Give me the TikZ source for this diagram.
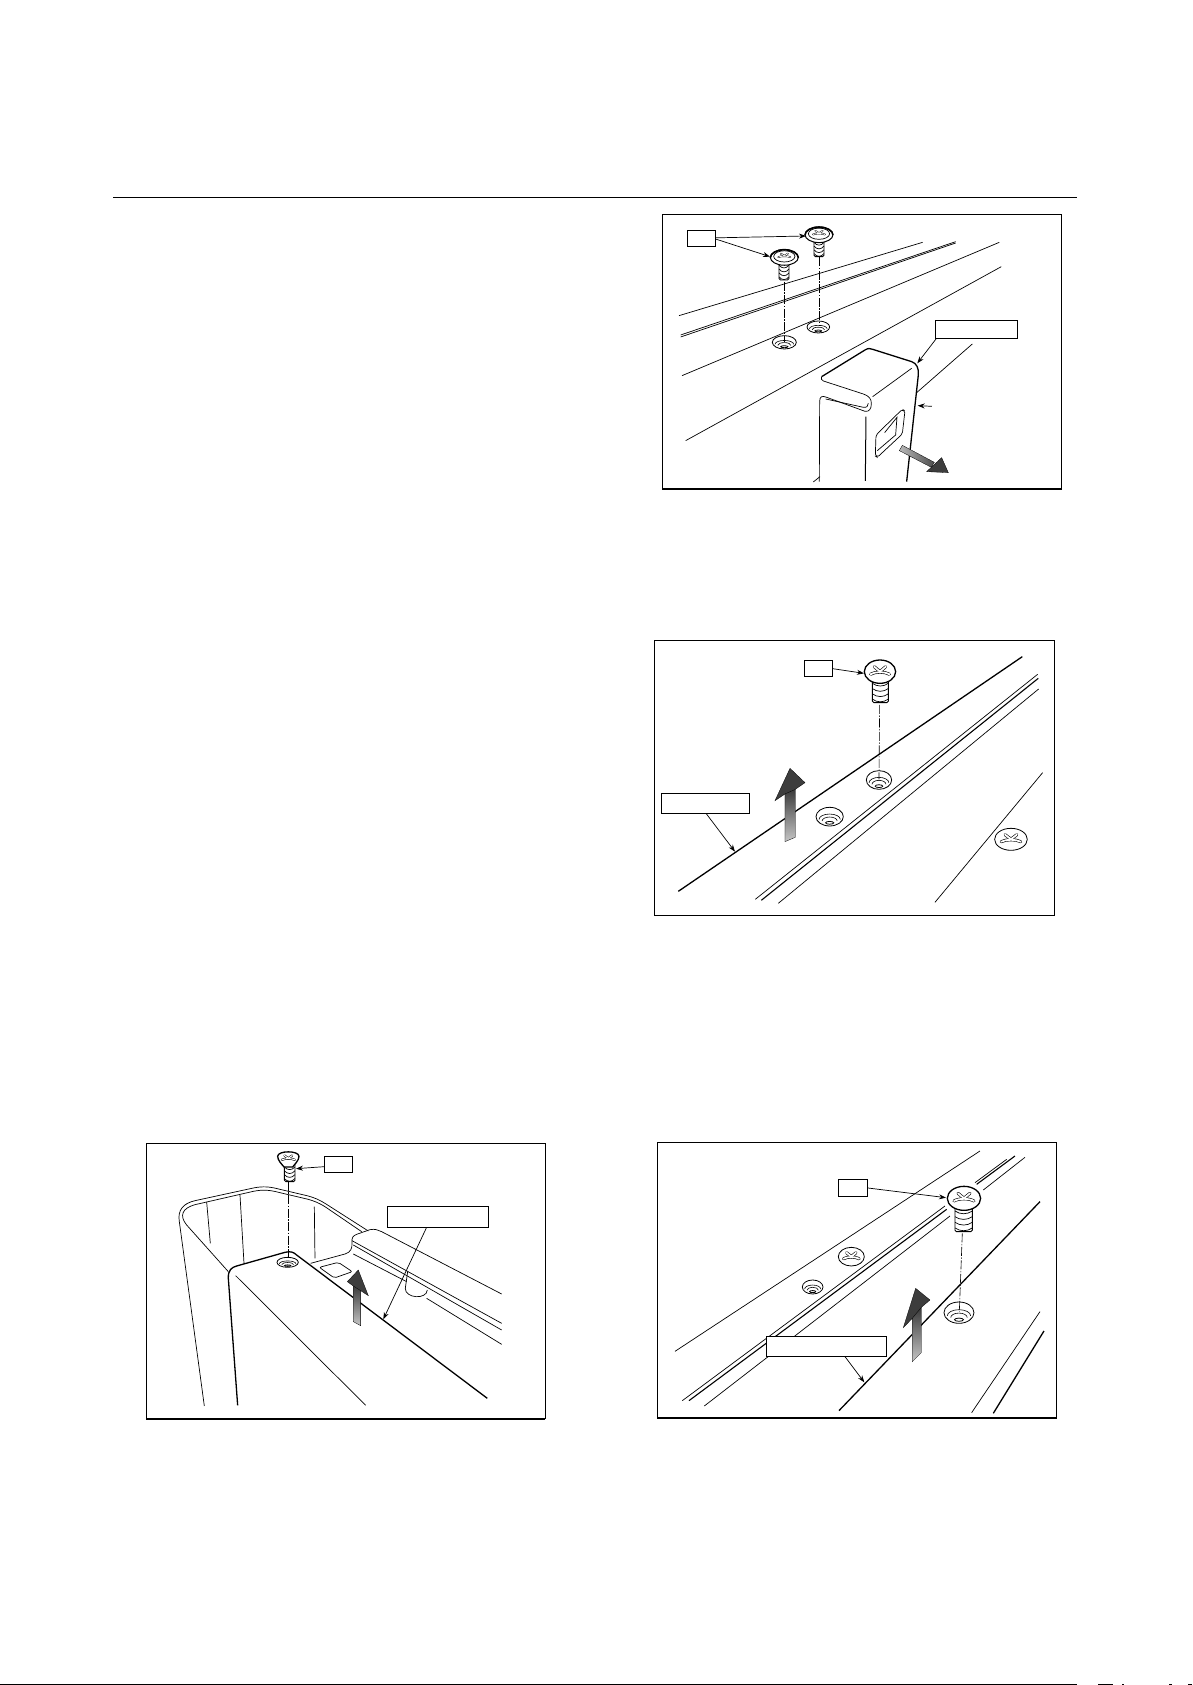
\documentclass[tikz,border=0pt]{standalone}
\usetikzlibrary{arrows.meta}
\definecolor{headdark}{gray}{0.24}
\tikzset{
  thin line/.style={line width=0.7pt,black},
  thick line/.style={line width=1.3pt,black},
  frameline/.style={line width=1.0pt,black},
  labelbox/.style={draw=black,line width=0.7pt,fill=white,inner sep=0pt},
  leader/.style={line width=0.7pt,black,-{Stealth[length=7pt,width=5pt]}},
  axisline/.style={line width=0.6pt,black,dash pattern=on 9pt off 1.5pt on 1.5pt off 1.5pt},
  blockhead/.style={draw=black,line width=0.3pt,fill=headdark},
  zoomA/.style={shift={(650pt,-200pt)},x=0.3333pt,y=-0.3333pt},
  zoomB/.style={shift={(640pt,-630pt)},x=0.3333pt,y=-0.3333pt},
  zoomC/.style={shift={(140pt,-1130pt)},x=0.3333pt,y=-0.3333pt},
  zoomD/.style={shift={(650pt,-1130pt)},x=0.3333pt,y=-0.3333pt},
}
% hole: x,y,rx,ry
\newcommand{\holeat}[4]{%
  \begin{scope}[shift={(#1,#2)},x=#3*0.3333pt,y=-#4*0.3333pt]
    \draw[line width=0.8pt,fill=white] (0,0) circle[x radius=1,y radius=1];
    \draw[line width=0.6pt] (-0.78,0.3) arc[start angle=180,end angle=360,x radius=0.78,y radius=0.58];
    \draw[line width=0.6pt] (-0.55,0.46) arc[start angle=180,end angle=360,x radius=0.55,y radius=0.42];
    \draw[line width=0.8pt] (0,0.66) circle[x radius=0.3,y radius=0.15];
  \end{scope}}
% cross recess: outer width, inner width
\newcommand{\crossrecess}[2]{%
    \draw[line width=#1,line cap=round] (-0.6,0.22) .. controls (-0.3,-0.02) and (0.3,-0.02) .. (0.6,0.22);
    \draw[line width=#1,line cap=round] (-0.36,-0.42) .. controls (-0.2,-0.25) and (-0.1,-0.1) .. (0,-0.02) .. controls (0.1,-0.1) and (0.2,-0.25) .. (0.36,-0.42);
    \draw[line width=#2,white,line cap=round] (-0.6,0.22) .. controls (-0.3,-0.02) and (0.3,-0.02) .. (0.6,0.22);
    \draw[line width=#2,white,line cap=round] (-0.36,-0.42) .. controls (-0.2,-0.25) and (-0.1,-0.1) .. (0,-0.02) .. controls (0.1,-0.1) and (0.2,-0.25) .. (0.36,-0.42);}
% plain head (installed or dome): x,y,rx,ry,lw
\newcommand{\domehead}[5]{%
  \begin{scope}[shift={(#1,#2)},x=#3*0.3333pt,y=-#4*0.3333pt]
    \draw[line width=#5,fill=white] (0,0) circle[x radius=1,y radius=1];
    \crossrecess{3pt}{1.8pt}
  \end{scope}}
% flanged head
\newcommand{\flangehead}[4]{%
  \begin{scope}[shift={(#1,#2)},x=#3*0.3333pt,y=-#4*0.3333pt]
    \draw[line width=1.0pt,fill=white] (0,0) circle[x radius=1,y radius=0.85];
    \draw[line width=1.5pt] (-1,0.05) arc[start angle=180,end angle=360,x radius=1,y radius=0.85];
    \draw[line width=0.7pt] (0,-0.1) circle[x radius=0.76,y radius=0.6];
    \begin{scope}[shift={(0,-0.15)},x=#3*0.24pt,y=-#4*0.2pt]\crossrecess{1.7pt}{0.8pt}\end{scope}
  \end{scope}}
% threaded shaft: cx, top, halfwidth, bottom, threads
\newcommand{\shaftat}[5]{%
  \draw[line width=0.9pt,fill=white,rounded corners=1.5pt] (#1-#3,#2) -- (#1-#3,#4) -- (#1+#3,#4) -- (#1+#3,#2);
  \foreach \i in {1,...,#5}{
    \pgfmathsetmacro{\ty}{#2+(#4-#2)*\i/(#5+0.3)}
    \draw[line width=0.7pt] (#1-#3,\ty-6) .. controls (#1-#3*0.4,\ty+5) and (#1+#3*0.4,\ty+5) .. (#1+#3,\ty-6);
  }}
\begin{document}
\begin{tikzpicture}[x=1pt,y=-1pt]
\useasboundingbox (0,0) rectangle (1192,1685);
% page rules
\coordinate (ruleL) at (113,197.5);
\coordinate (ruleR) at (1077,197.5);
\draw[line width=1.1pt] (ruleL) -- (ruleR);
\coordinate (footL) at (0,1684.3);
\coordinate (footR) at (1077,1684.3);
\draw[line width=1.3pt] (footL) -- (footR);
\draw[line width=1pt] (1098,1684.5) -- (1113,1684.5) (1122,1684.5) -- (1123.5,1684.5) (1169,1684.5) -- (1172,1684.5) (1188,1684.5) -- (1192,1684.5);

%------------- Panel 1
\begin{scope}[zoomA]
\draw[frameline] (37,868) -- (37,43) -- (1235,43) -- (1235,868);
\draw[line width=1.9pt] (37,868) -- (1235,868);
\draw[thin line] (87,347) -- (818,127);
\draw[thin line] (92,405) -- (917,125);
\draw[thin line] (92,411) -- (917,129);
\draw[thin line] (96,527) -- (1048,127);
\draw[thin line] (107,722) -- (1054,200);
\draw[thin line] (967,432) -- (800,578);
\holeat{403}{427}{36}{20}
\holeat{505}{381}{34}{18}
\draw[axisline] (403,245) -- (403,425);
\draw[axisline] (507,172) -- (507,378);
\shaftat{402}{190}{15}{240}{4}
\flangehead{403}{172}{42}{28}
\shaftat{507}{122}{15}{170}{4}
\flangehead{507}{104}{42}{28}
% bracket
\draw[line width=1.3pt,fill=white] (515,530) -- (645,450) .. controls (655,444) and (660,445) .. (668,448) -- (785,485) .. controls (800,490) and (807,505) .. (805,525) -- (770,845);
\draw[thin line] (515,530) .. controls (512,536) and (514,540) .. (520,543) -- (640,582) .. controls (658,588) and (665,598) .. (664,612) .. controls (664,626) and (658,636) .. (645,634) -- (530,592) .. controls (515,586) and (509,590) .. (509,605) -- (508,845);
\draw[thin line] (527,597) -- (640,622) .. controls (650,624) and (655,618) .. (655,610);
\draw[thin line] (668,590) -- (785,505);
\draw[line width=1pt] (648,650) -- (646,843);
\draw[thin line] (490,846) -- (510,830);
\draw[thin line,rounded corners=2pt] (678,705) -- (757,628) -- (765,632) -- (757,702) -- (682,772) -- (676,768) -- cycle;
\draw[thin line] (704,698) -- (741,652) -- (737,705) -- (682,752);
\shade[draw=black,line width=0.3pt,left color=gray!55,right color=black!70] (757,736) -- (853,787) -- (844,802) -- (748,752) -- cycle;
\draw[blockhead] (875,773) -- (895,818) -- (830,815) -- cycle;
\node[labelbox,minimum width=28pt,minimum height=15.7pt] (boxA1) at (155,115.5) {};
\node[labelbox,minimum width=81.7pt,minimum height=17.7pt] (boxA2) at (979.5,387.5) {};
\coordinate (headA2) at (468,108);
\coordinate (headA1) at (360,170);
\coordinate (cornerA) at (802,490);
\coordinate (edgeA) at (803,617);
\coordinate (tailA) at (846,619);
\draw[leader] (boxA1.east) ++(0,-2) -- (headA2);
\draw[leader] (boxA1.east) ++(0,2) -- (headA1);
\draw[leader] (860,414.5) -- (cornerA);
\draw[leader] (tailA) -- (edgeA);
\end{scope}

%------------- Panel 2
\begin{scope}[zoomB]
\draw[frameline] (43,30) rectangle (1244,858);
\draw[thick line] (115,784) -- (1147,80);
\draw[thin line] (346,808) -- (1193,133);
\draw[line width=1.1pt] (364,811) -- (1195,145);
\draw[thin line] (415,820) -- (1196,177);
\draw[thin line] (885,817) -- (1208,428);
\holeat{717}{450}{38}{28}
\holeat{569}{560}{41}{28}
\draw[axisline] (719,225) -- (717,448);
\shaftat{721}{150}{24}{218}{4}
\domehead{720}{125}{47}{35}{1.3pt}
\domehead{1113}{628}{49}{33}{0.8pt}
\shade[draw=black,line width=0.3pt,bottom color=gray!45,top color=black!80] (435,635) -- (466,622) -- (466,470) -- (435,490) -- cycle;
\draw[blockhead] (466,478) -- (495,458) -- (450,415) -- (405,512) -- (435,492) -- cycle;
\node[labelbox,minimum width=28pt,minimum height=16pt] (boxB1) at (535,116) {};
\node[labelbox,minimum width=88pt,minimum height=19.7pt] (boxB2) at (195,520.5) {};
\coordinate (headB) at (672,130);
\coordinate (edgeB) at (285,665);
\draw[leader] (boxB1.east) -- (headB);
\draw[leader] (198,550) -- (edgeB);
\end{scope}

%------------- Panel 3
\begin{scope}[zoomC]
\draw[frameline] (19,866) -- (19,41) -- (1216,41) -- (1216,866);
\draw[line width=1.9pt] (19,866) -- (1216,866);
% tub rim
\draw[thin line] (193,828) -- (118,275) .. controls (112,240) and (130,220) .. (165,212) -- (340,174) .. controls (370,168) and (390,170) .. (420,178) -- (505,198) .. controls (525,204) and (535,208) .. (555,220) -- (685,303);
\draw[thin line] (265,425) -- (140,285) .. controls (118,258) and (125,235) .. (165,224) -- (340,184) .. controls (370,178) and (390,180) .. (420,188) -- (505,208) .. controls (525,214) and (535,218) .. (555,230) -- (665,305);
\draw[thin line] (200,216) -- (211,340);
\draw[thin line] (300,195) -- (312,400);
\draw[thin line] (523,230) -- (525,385);
\draw[thick line] (293,826) -- (265,445) .. controls (264,420) and (275,412) .. (290,408) -- (435,367) .. controls (452,363) and (460,366) .. (470,375) -- (1042,805);
\draw[thin line] (287,437) -- (677,826);
% far rail
\draw[thin line] (512,400) -- (615,372) .. controls (632,367) and (637,355) .. (636,340) .. controls (634,322) and (640,317) .. (650,313) -- (690,299) .. controls (705,296) and (715,300) .. (725,305) -- (1085,492);
\draw[thin line] (636,332) -- (1085,580);
\draw[thin line] (640,345) -- (1085,600);
\draw[thin line] (640,372) -- (800,455);
\draw[thin line] (860,505) -- (1085,643);
\draw[thin line] (803,425) -- (796,475) .. controls (795,505) and (860,510) .. (862,480);
\draw[thin line,rounded corners=2pt] (538,412) -- (595,397) -- (637,425) -- (583,444) -- cycle;
\holeat{443}{397}{32}{15}
\draw[axisline] (445,155) -- (445,385);
\shaftat{449}{105}{16}{155}{4}
\begin{scope}[shift={(445,85)},x=32*0.3333pt,y=-20*0.3333pt]
  \draw[line width=1.3pt,fill=white] (-1,-0.3) .. controls (-1,-1.2) and (1,-1.2) .. (1,-0.3) .. controls (1,0.3) and (0.6,0.9) .. (0.4,1.3) -- (-0.4,1.3) .. controls (-0.6,0.9) and (-1,0.3) .. (-1,-0.3) -- cycle;
  \crossrecess{2.2pt}{1.1pt}
\end{scope}
\shade[draw=black,line width=0.3pt,bottom color=gray!45,top color=black!80] (640,575) -- (662,587) -- (662,470) -- (640,460) -- cycle;
\draw[blockhead] (640,468) -- (622,455) -- (655,420) -- (685,497) -- (662,482) -- cycle;
\node[labelbox,minimum width=28pt,minimum height=16.7pt] (boxC1) at (596,103) {};
\node[labelbox,minimum width=101pt,minimum height=21.3pt] (boxC2) at (894,260) {};
\coordinate (headC) at (468,116);
\coordinate (edgeC) at (730,568);
\draw[leader] (boxC1.west) ++(0,7) -- (headC);
\draw[leader] (860,292) -- (edgeC);
\end{scope}

%------------- Panel 4
\begin{scope}[zoomD]
\draw[frameline] (22,865) -- (22,37) -- (1220,37) -- (1220,865);
\draw[line width=1.9pt] (22,865) -- (1220,865);
\draw[thin line] (75,664) -- (990,63);
\draw[thin line] (97,812) -- (885,228);
\draw[line width=1.1pt] (117,812) -- (890,238);
\draw[thin line] (163,828) -- (900,258);
\draw[thin line] (975,158) -- (1070,88);
\draw[line width=1.1pt] (980,163) -- (1095,78);
\draw[thin line] (1000,180) -- (1125,82);
\draw[thick line] (567,842) -- (1170,215);
\draw[thin line] (965,848) -- (1170,545);
\draw[thick line] (1030,850) -- (1182,603);
\holeat{927}{548}{45}{32}
\holeat{488}{471}{31}{21}
\draw[axisline] (937,310) -- (928,546);
\domehead{604}{380}{39}{28}{0.8pt}
\shaftat{941}{232}{26}{305}{4}
\domehead{942}{205}{50}{36}{1.3pt}
\shade[draw=black,line width=0.3pt,bottom color=gray!45,top color=black!80] (787,695) -- (814,668) -- (814,525) -- (787,555) -- cycle;
\draw[blockhead] (814,532) -- (840,510) -- (797,475) -- (760,593) -- (787,565) -- cycle;
\node[labelbox,minimum width=29.3pt,minimum height=17.3pt] (boxD1) at (609,174) {};
\node[labelbox,minimum width=120.3pt,minimum height=20.3pt] (boxD2) at (529.5,649.5) {};
\coordinate (headD) at (888,203);
\coordinate (edgeD) at (643,757);
\draw[leader] (boxD1.east) -- (headD);
\draw[leader] (585,680) -- (edgeD);
\end{scope}
\end{tikzpicture}
\end{document}
